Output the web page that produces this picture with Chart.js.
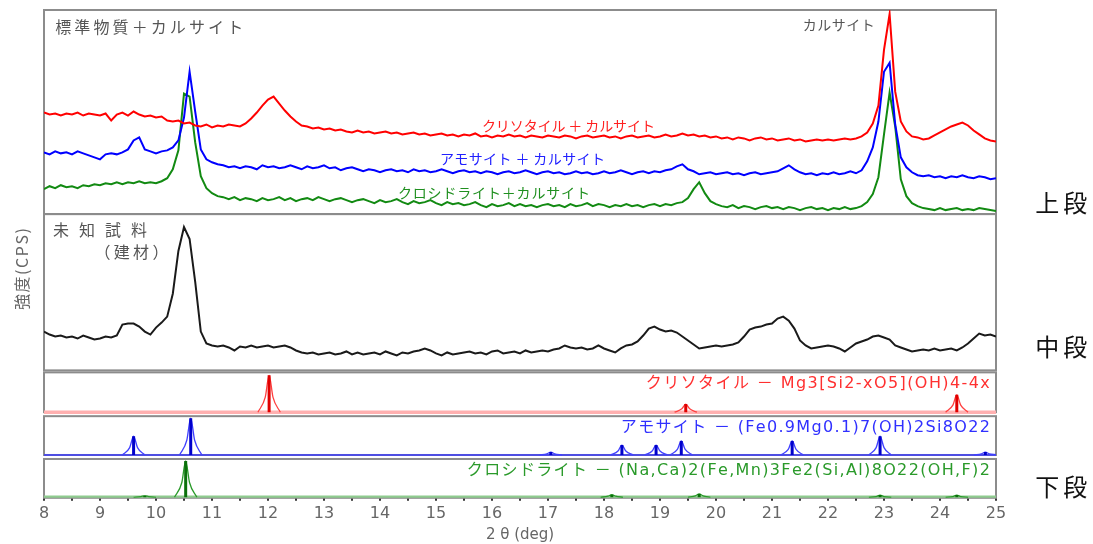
<!DOCTYPE html>
<html>
<head>
<meta charset="utf-8">
<script src="https://cdn.jsdelivr.net/npm/chart.js@4.4.1/dist/chart.umd.min.js"></script>
<style>
  html, body { margin: 0; padding: 0; background: #fff; }
  #wrap { width: 1093px; height: 544px; position: relative; background: #fff; }
</style>
</head>
<body>
<div id="wrap"><canvas id="xrd"></canvas></div>
<script>
'use strict';

// scan grid: 2θ 8 - 25 deg, 0.1 deg step
var twoTheta = [];
for (var i = 0; i <= 170; i++) twoTheta.push(+(8 + i * 0.1).toFixed(1));

// upper panel (standards + calcite), intensities as plotted (offset traces)
var chrysotileCalcite = [
  102,100,101,99,101,100,102,99,101,100,
  99,101,94,100,102,99,103,100,98,99,
  97,98,94,93,94,91,92,89,88,90,
  87,89,88,90,89,88,91,96,102,109,
  115,118,111,104,98,93,89,88,86,87,
  85,86,84,85,83,82,84,82,83,81,
  82,83,81,82,80,81,82,80,81,79,
  80,81,79,80,78,80,79,81,78,79,
  77,79,78,80,78,79,77,79,78,77,
  79,78,77,79,78,76,78,79,77,78,
  79,77,78,76,78,79,77,78,79,77,
  78,80,78,79,81,79,80,78,79,77,
  78,76,77,75,77,76,74,76,77,75,
  76,74,75,76,74,75,73,74,75,74,
  75,74,75,76,75,76,78,82,91,109,
  165,201,123,93,83,78,77,75,76,79,
  82,85,88,90,92,89,84,80,76,74,
  73
];
var amositeCalcite = [
  62,60,63,61,62,60,63,61,59,57,
  55,60,61,60,62,65,74,77,65,63,
  61,63,64,67,74,97,143,103,65,55,
  52,50,49,47,48,46,48,47,45,49,
  47,48,46,47,49,47,45,48,46,47,
  49,46,47,44,46,47,45,43,45,44,
  42,44,45,43,44,42,45,43,44,42,
  43,45,43,41,43,44,42,43,41,43,
  42,40,42,43,41,42,44,42,40,42,
  43,41,42,40,41,43,41,42,40,41,
  43,41,42,44,42,40,42,43,41,43,
  42,44,45,48,50,45,43,40,41,42,
  40,41,42,40,41,39,41,42,40,41,
  42,43,46,49,45,42,40,41,39,41,
  40,42,40,41,43,41,44,53,67,93,
  143,152,90,57,47,42,39,38,39,37,
  38,36,38,37,39,37,36,38,37,35,
  36
];
var crocidoliteCalcite = [
  25,28,26,29,27,28,26,29,28,30,
  29,31,30,32,30,32,31,33,31,32,
  31,33,36,45,64,121,118,72,38,26,
  21,18,17,15,17,14,16,15,13,16,
  14,15,17,14,16,13,15,16,14,17,
  15,13,15,16,14,12,14,15,13,11,
  14,12,13,15,12,10,13,11,12,14,
  11,9,12,10,11,9,10,12,9,7,
  10,8,9,11,8,10,8,9,7,9,
  10,8,9,7,10,8,9,11,8,10,
  9,7,9,8,10,8,9,7,9,10,
  8,10,9,11,12,16,25,32,21,13,
  10,8,7,9,6,8,7,5,7,8,
  6,7,5,7,6,4,6,7,5,6,
  4,6,5,7,5,6,8,12,20,37,
  80,122,88,35,18,11,8,6,5,4,
  6,4,5,6,4,5,4,6,5,4,
  3
];

// middle panel: unknown sample (building material)
var unknownSample = [
  39,36,34,35,33,34,32,35,33,31,
  32,34,33,35,46,47,47,44,39,36,
  43,48,54,77,120,144,132,89,39,27,
  25,24,25,23,20,24,23,25,23,24,
  25,23,24,25,23,20,18,17,18,16,
  17,18,16,17,19,16,18,16,17,18,
  16,19,17,15,18,17,19,20,22,20,
  17,15,18,16,17,18,19,17,18,16,
  19,20,17,18,19,17,20,18,19,20,
  19,21,22,25,23,22,23,21,22,25,
  22,20,18,22,25,26,29,35,42,44,
  41,39,40,38,34,30,26,22,23,24,
  25,24,25,26,28,34,41,43,44,46,
  47,52,54,50,42,30,25,22,23,24,
  25,24,22,19,23,27,29,31,34,35,
  33,31,25,23,21,19,20,21,20,22,
  20,21,22,20,23,27,32,37,35,36,
  34
];

// lower panel: reference patterns, relative intensity (%)
var chrysotilePeaks = [12.02, 19.46, 24.30];
var chrysotileHeights = [100, 22, 47];
var amositePeaks = [9.60, 10.62, 17.05, 18.32, 18.93, 19.38, 21.36, 22.93, 24.81];
var amositeHeights = [51, 100, 8, 27, 27, 38, 38, 51, 8];
var crocidolitePeaks = [9.80, 10.53, 18.14, 19.70, 22.93, 24.30];
var crocidoliteHeights = [4, 100, 7, 9, 6, 6];

// broadened profiles of the reference lines (null = gap between peaks)
var chrysotileProfileX = [11.82,11.95,12.02,12.09,12.22,12.22, 19.26,19.39,19.46,19.53,19.66,19.66, 24.10,24.23,24.30,24.37,24.50];
var chrysotileProfileY = [0,40,100,40,0,null, 0,9,22,9,0,null, 0,19,47,19,0];
var amositeProfileX = [
  9.40,9.53,9.60,9.67,9.80,9.80, 10.42,10.55,10.62,10.69,10.82,10.82,
  16.85,16.98,17.05,17.12,17.25,17.25, 18.12,18.25,18.32,18.39,18.52,18.52,
  18.73,18.86,18.93,19.00,19.13,19.13, 19.18,19.31,19.38,19.45,19.58,19.58,
  21.16,21.29,21.36,21.43,21.56,21.56, 22.73,22.86,22.93,23.00,23.13,23.13,
  24.61,24.74,24.81,24.88,25.00
];
var amositeProfileY = [
  0,20,51,20,0,null, 0,40,100,40,0,null,
  0,3,8,3,0,null, 0,11,27,11,0,null,
  0,11,27,11,0,null, 0,15,38,15,0,null,
  0,15,38,15,0,null, 0,20,51,20,0,null,
  0,3,8,3,1
];
var crocidoliteProfileX = [
  9.60,9.73,9.80,9.87,10.00,10.00, 10.33,10.46,10.53,10.60,10.73,10.73,
  17.94,18.07,18.14,18.21,18.34,18.34, 19.50,19.63,19.70,19.77,19.90,19.90,
  22.73,22.86,22.93,23.00,23.13,23.13, 24.10,24.23,24.30,24.37,24.50
];
var crocidoliteProfileY = [
  0,2,4,2,0,null, 0,40,100,40,0,null,
  0,3,7,3,0,null, 0,4,9,4,0,null,
  0,2,6,2,0,null, 0,2,6,2,0
];

function xy(values) {
  return values.map(function (v, i) { return { x: twoTheta[i], y: v }; });
}
function pairs(xs, ys) {
  return xs.map(function (x, i) { return { x: x, y: ys[i] }; });
}
function sticks(pos, heights) {
  var out = [];
  pos.forEach(function (p, i) { out.push({ x: p, y: 0 }, { x: p, y: heights[i] }, { x: p, y: null }); });
  return out;
}
var baseline = [{ x: 8, y: 0 }, { x: 25, y: 0 }];

var jpFont = '"Noto Sans CJK JP", "DejaVu Sans", sans-serif';
var latinFont = '"DejaVu Sans", "Noto Sans CJK JP", sans-serif';

// panel frame insets (top, bottom) inside each stacked axis band
var frameInsets = { yTop: [0, 0], yMid: [0, 1], yRed: [1, 2], yBlue: [2, 2], yGreen: [2, 0] };

var panelLabels = [
  { text: '標準物質＋カルサイト', axis: 'yTop', deg: 8.2, dy: 17, width: 188, size: 16, color: '#555', font: jpFont },
  { text: 'カルサイト', axis: 'yTop', deg: 21.55, dy: 15, width: 72, size: 14, color: '#555', font: jpFont },
  { text: 'クリソタイル ＋ カルサイト', axis: 'yTop', deg: 15.82, dy: 116, width: 173, size: 14, color: '#ff2020', font: jpFont },
  { text: 'アモサイト ＋ カルサイト', axis: 'yTop', deg: 15.07, dy: 149, width: 165, size: 14, color: '#2020ff', font: jpFont },
  { text: 'クロシドライト＋カルサイト', axis: 'yTop', deg: 14.32, dy: 183, width: 192, size: 14, color: '#1f8f1f', font: jpFont },
  { text: '未知試料', axis: 'yMid', deg: 8.16, dy: 16, width: 94, size: 16, color: '#555', font: jpFont },
  { text: '（建材）', axis: 'yMid', deg: 8.9, dy: 38, width: 74, size: 16, color: '#555', font: jpFont },
  { text: 'クリソタイル － Mg3[Si2-xO5](OH)4-4x', axis: 'yRed', deg: 24.89, dy: 12, width: 344, size: 16, color: '#ff3030', font: latinFont, align: 'right' },
  { text: 'アモサイト － (Fe0.9Mg0.1)7(OH)2Si8O22', axis: 'yBlue', deg: 24.89, dy: 14, width: 369, size: 16, color: '#3030ff', font: latinFont, align: 'right' },
  { text: 'クロシドライト － (Na,Ca)2(Fe,Mn)3Fe2(Si,Al)8O22(OH,F)2', axis: 'yGreen', deg: 24.89, dy: 14, width: 523, size: 16, color: '#2a9a2a', font: latinFont, align: 'right' },
  { text: '上段', axis: 'yTop', deg: 25.7, dy: 193, width: 52, size: 24, color: '#111', font: jpFont },
  { text: '中段', axis: 'yMid', deg: 25.7, dy: 133, width: 52, size: 24, color: '#111', font: jpFont },
  { text: '下段', axis: 'yGreen', deg: 25.7, dy: 30, width: 52, size: 24, color: '#111', font: jpFont }
];
var yTitle = { text: '強度(CPS)', axis: 'yMid', px: 22, dy: 55, width: 82, size: 16, color: '#666', font: jpFont };

// draws text char by char so that it spans the given width
function spacedText(c, text, x, y, width, align) {
  var chars = Array.from(text);
  var widths = chars.map(function (ch) { return c.measureText(ch).width; });
  var natural = widths.reduce(function (a, b) { return a + b; }, 0);
  var gap = chars.length > 1 ? (width - natural) / (chars.length - 1) : 0;
  var cx = align === 'right' ? x - width : (align === 'center' ? x - width / 2 : x);
  c.textAlign = 'left';
  chars.forEach(function (ch, i) {
    c.fillText(ch, cx, y);
    cx += widths[i] + gap;
  });
}

var panelFrames = {
  id: 'panelFrames',
  beforeDatasetsDraw: function (chart) {
    var c = chart.ctx, area = chart.chartArea;
    c.save();
    c.strokeStyle = '#8c8c8c';
    c.lineWidth = 2;
    Object.keys(frameInsets).forEach(function (id) {
      var s = chart.scales[id], ins = frameInsets[id];
      c.strokeRect(area.left, s.top + ins[0], area.right - area.left, s.bottom - s.top - ins[0] - ins[1]);
    });
    c.restore();
  }
};

var panelText = {
  id: 'panelText',
  afterDraw: function (chart) {
    var c = chart.ctx, xs = chart.scales.x;
    c.save();
    c.textBaseline = 'middle';
    panelLabels.forEach(function (l) {
      c.font = l.size + 'px ' + l.font;
      c.fillStyle = l.color;
      spacedText(c, l.text, xs.getPixelForValue(l.deg), chart.scales[l.axis].top + l.dy, l.width, l.align || 'left');
    });
    c.translate(yTitle.px, chart.scales[yTitle.axis].top + yTitle.dy);
    c.rotate(-Math.PI / 2);
    c.font = yTitle.size + 'px ' + yTitle.font;
    c.fillStyle = yTitle.color;
    spacedText(c, yTitle.text, 0, 0, yTitle.width, 'center');
    c.restore();
  }
};

function panelAxis(min, max, weight) {
  return {
    type: 'linear', position: 'left', stack: 'xrd', stackWeight: weight,
    min: min, max: max, offset: false,
    grid: { display: false, drawTicks: false },
    border: { display: false },
    ticks: { display: false }
  };
}

var ctx = document.getElementById('xrd').getContext('2d');
window.xrdChart = new Chart(ctx, {
  type: 'line',
  data: {
    datasets: [
      { data: xy(chrysotileCalcite), yAxisID: 'yTop', borderColor: '#ff0000' },
      { data: xy(amositeCalcite), yAxisID: 'yTop', borderColor: '#0000ff' },
      { data: xy(crocidoliteCalcite), yAxisID: 'yTop', borderColor: '#128a12' },
      { data: xy(unknownSample), yAxisID: 'yMid', borderColor: '#1a1a1a' },

      { data: sticks(chrysotilePeaks, chrysotileHeights), yAxisID: 'yRed', borderColor: '#e00000', borderWidth: 3 },
      { data: pairs(chrysotileProfileX, chrysotileProfileY), yAxisID: 'yRed', borderColor: '#ff4040', borderWidth: 1.3, cubicInterpolationMode: 'monotone' },
      { data: baseline, yAxisID: 'yRed', borderColor: '#ffb0b0', borderWidth: 3.5 },

      { data: sticks(amositePeaks, amositeHeights), yAxisID: 'yBlue', borderColor: '#0000cc', borderWidth: 3 },
      { data: pairs(amositeProfileX, amositeProfileY), yAxisID: 'yBlue', borderColor: '#4040ff', borderWidth: 1.3, cubicInterpolationMode: 'monotone' },
      { data: baseline, yAxisID: 'yBlue', borderColor: '#3a3aff', borderWidth: 1.5 },

      { data: sticks(crocidolitePeaks, crocidoliteHeights), yAxisID: 'yGreen', borderColor: '#0a700a', borderWidth: 3 },
      { data: pairs(crocidoliteProfileX, crocidoliteProfileY), yAxisID: 'yGreen', borderColor: '#2a9a2a', borderWidth: 1.3, cubicInterpolationMode: 'monotone' },
      { data: baseline, yAxisID: 'yGreen', borderColor: '#8fcc8f', borderWidth: 3.5 }
    ]
  },
  options: {
    responsive: true,
    maintainAspectRatio: false,
    animation: false,
    layout: { padding: { left: 44, right: 97, top: 10, bottom: 0 } },
    plugins: { legend: { display: false }, tooltip: { enabled: false } },
    elements: {
      point: { radius: 0 },
      line: { borderWidth: 2, tension: 0, fill: false }
    },
    scales: {
      x: {
        type: 'linear', min: 8, max: 25, offset: false,
        grid: { display: true, drawOnChartArea: false, drawTicks: true, tickLength: 3, color: '#333', lineWidth: 2, offset: false },
        border: { display: false },
        ticks: {
          stepSize: 0.5, autoSkip: false, maxRotation: 0, padding: 3, color: '#666',
          font: { family: 'DejaVu Sans', size: 16 },
          callback: function (v) { return Number.isInteger(v) ? String(v) : ''; }
        },
        title: { display: true, text: '2 θ (deg)', color: '#666', font: { family: 'DejaVu Sans', size: 15 }, padding: { top: 0, bottom: 0 } }
      },
      yGreen: panelAxis(-1.4, 111, 41),
      yBlue: panelAxis(-5.4, 110.8, 43),
      yRed: panelAxis(-5.4, 110.8, 43),
      yMid: panelAxis(-1, 157, 158),
      yTop: panelAxis(0, 205, 205)
    }
  },
  plugins: [panelFrames, panelText]
});
</script>
</body>
</html>
